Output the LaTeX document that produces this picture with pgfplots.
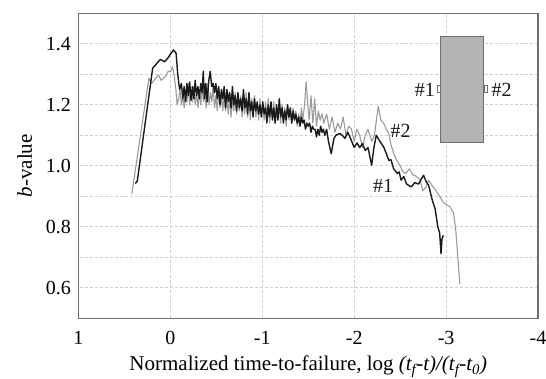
\documentclass[border=0pt]{standalone}
\usepackage{fontspec}
\setmainfont{Liberation Serif}
\usepackage{pgfplots}
\pgfplotsset{compat=1.18}
\definecolor{frame}{HTML}{6E6E6E}
\definecolor{gridc}{HTML}{CFCFCF}
\definecolor{ser1}{HTML}{1A1A1A}
\definecolor{ser2}{HTML}{9A9A9A}
\definecolor{boxfill}{HTML}{B4B4B4}
\begin{document}
\begin{tikzpicture}
\begin{axis}[
  name=ax,
  scale only axis,
  width=459.5pt, height=305pt,
  xmin=-4, xmax=1, ymin=0.5, ymax=1.5,
  x dir=reverse,
  xtick={-4,-3,-2,-1,0,1},
  ytick={0.6,0.8,1.0,1.2,1.4},
  minor ytick={0.7,0.9,1.1,1.3},
  yticklabel style={/pgf/number format/fixed,/pgf/number format/fixed zerofill,/pgf/number format/precision=1},
  /pgf/number format/assume math mode=true,
  ticklabel style={font=\fontsize{20}{23}\selectfont},
  major tick length=0pt, minor tick length=0pt,
  xmajorgrids, ymajorgrids, yminorgrids,
  major grid style={gridc, dash pattern=on 3pt off 2pt, line width=0.7pt},
  minor grid style={gridc, dash pattern=on 3pt off 2pt, line width=0.7pt},
  axis line style={frame, line width=1.3pt},
  xticklabel style={yshift=-9pt},
  yticklabel style={xshift=-4pt},
  xlabel={Normalized time-to-failure, log \textit{(t\textsubscript{f}-t)/(t\textsubscript{f}-t\textsubscript{0})}},
  ylabel={\textit{b}-value},
  label style={font=\fontsize{21}{24}\selectfont},
  xlabel style={yshift=-5pt},
  ylabel style={yshift=7pt},
  clip=false,
]
% inset schematic
\draw[frame, fill=boxfill, line width=1pt] (axis cs:-2.939,1.078) rectangle (axis cs:-3.412,1.423);
\draw[frame, fill=white, line width=0.7pt] (axis cs:-2.900,1.242) rectangle (axis cs:-2.939,1.265);
\draw[frame, fill=white, line width=0.7pt] (axis cs:-3.412,1.242) rectangle (axis cs:-3.451,1.265);
\node[font=\fontsize{20}{23}\selectfont, text=ser1] at (axis cs:-2.768,1.248) {\#1};
\node[font=\fontsize{20}{23}\selectfont, text=ser1] at (axis cs:-3.603,1.248) {\#2};
\node[font=\fontsize{20}{23}\selectfont, text=ser1] at (axis cs:-2.504,1.116) {\#2};
\node[font=\fontsize{20}{23}\selectfont, text=ser1] at (axis cs:-2.315,0.935) {\#1};
% series #2 (gray)
\addplot[ser2, line width=1.1pt, line join=round] coordinates {
(0.42,0.907) (0.234,1.287) (0.204,1.27) (0.165,1.285) (0.129,1.298) (0.10,1.28)
(0.075,1.287) (0.05,1.295) (0.026,1.309) (-0.005,1.31) (-0.023,1.325) (-0.043,1.293)
(-0.06,1.25) (-0.073,1.20) (-0.09,1.22) (-0.105,1.25) (-0.12,1.20) (-0.135,1.23)
(-0.15,1.19) (-0.165,1.25) (-0.18,1.21) (-0.195,1.27) (-0.21,1.20) (-0.225,1.25)
(-0.24,1.21) (-0.255,1.26) (-0.27,1.20) (-0.285,1.24) (-0.30,1.19) (-0.315,1.25)
(-0.33,1.20) (-0.345,1.26) (-0.36,1.21) (-0.375,1.24) (-0.39,1.19) (-0.405,1.27)
(-0.42,1.20) (-0.435,1.24) (-0.45,1.21) (-0.465,1.26) (-0.48,1.19) (-0.495,1.23)
(-0.51,1.18) (-0.525,1.25) (-0.54,1.19) (-0.555,1.23) (-0.57,1.18) (-0.585,1.24)
(-0.60,1.18) (-0.615,1.22) (-0.63,1.17) (-0.645,1.23) (-0.66,1.16) (-0.675,1.22)
(-0.69,1.18) (-0.705,1.24) (-0.72,1.17) (-0.735,1.22) (-0.75,1.18) (-0.765,1.23)
(-0.78,1.16) (-0.795,1.21) (-0.81,1.17) (-0.825,1.24) (-0.84,1.16) (-0.855,1.21)
(-0.87,1.15) (-0.885,1.22) (-0.90,1.17) (-0.915,1.23) (-0.93,1.16) (-0.945,1.20)
(-0.96,1.15) (-0.975,1.22) (-0.99,1.16) (-1.005,1.20) (-1.02,1.15) (-1.035,1.21)
(-1.05,1.16) (-1.065,1.22) (-1.08,1.14) (-1.095,1.20) (-1.11,1.16) (-1.125,1.21)
(-1.14,1.14) (-1.155,1.19) (-1.17,1.15) (-1.185,1.21) (-1.20,1.14) (-1.215,1.20)
(-1.23,1.15) (-1.245,1.19) (-1.26,1.13) (-1.275,1.20) (-1.29,1.15) (-1.305,1.18)
(-1.32,1.14) (-1.335,1.19) (-1.35,1.15) (-1.365,1.18) (-1.38,1.13) (-1.395,1.17)
(-1.41,1.14) (-1.425,1.19) (-1.44,1.15) (-1.46,1.20) (-1.477,1.276) (-1.495,1.20)
(-1.51,1.15) (-1.53,1.23) (-1.55,1.14) (-1.57,1.22) (-1.59,1.13) (-1.61,1.18)
(-1.63,1.15) (-1.65,1.17) (-1.67,1.14) (-1.70,1.17) (-1.73,1.12) (-1.76,1.16)
(-1.79,1.11) (-1.82,1.14) (-1.85,1.12) (-1.88,1.16) (-1.91,1.10) (-1.94,1.13)
(-1.97,1.12) (-2.0,1.08) (-2.03,1.12) (-2.06,1.10) (-2.09,1.06) (-2.12,1.10)
(-2.15,1.12) (-2.19,1.08) (-2.22,1.10) (-2.262,1.196) (-2.29,1.15) (-2.32,1.14)
(-2.35,1.12) (-2.376,1.106) (-2.40,1.07) (-2.43,1.04) (-2.46,1.02) (-2.50,1.00)
(-2.53,0.98) (-2.56,0.975) (-2.60,0.99) (-2.64,0.97) (-2.68,0.965) (-2.72,0.953)
(-2.745,0.918) (-2.78,0.93) (-2.81,0.953) (-2.86,0.93) (-2.91,0.91) (-2.97,0.88)
(-3.04,0.866) (-3.08,0.847) (-3.106,0.787) (-3.15,0.612)
};
% series #1 (black)
\addplot[ser1, line width=1.4pt, line join=round] coordinates {
(0.382,0.942) (0.36,0.95) (0.193,1.32) (0.15,1.335) (0.109,1.349) (0.064,1.341)
(0.03,1.352) (0.007,1.363) (-0.035,1.38) (-0.062,1.369) (-0.08,1.30) (-0.10,1.25)
(-0.12,1.27) (-0.135,1.22) (-0.15,1.26) (-0.165,1.21) (-0.18,1.27) (-0.195,1.23)
(-0.21,1.275) (-0.225,1.215) (-0.24,1.26) (-0.255,1.22) (-0.27,1.28) (-0.285,1.23)
(-0.30,1.26) (-0.315,1.22) (-0.33,1.27) (-0.345,1.24) (-0.358,1.31) (-0.37,1.22)
(-0.385,1.27) (-0.40,1.21) (-0.418,1.28) (-0.433,1.31) (-0.45,1.26) (-0.465,1.27)
(-0.48,1.24) (-0.495,1.27) (-0.51,1.22) (-0.525,1.26) (-0.54,1.20) (-0.555,1.25)
(-0.57,1.22) (-0.585,1.26) (-0.60,1.19) (-0.615,1.25) (-0.63,1.21) (-0.645,1.24)
(-0.66,1.19) (-0.675,1.26) (-0.69,1.20) (-0.705,1.23) (-0.72,1.18) (-0.735,1.24)
(-0.75,1.19) (-0.765,1.22) (-0.78,1.18) (-0.795,1.25) (-0.81,1.19) (-0.825,1.22)
(-0.84,1.17) (-0.855,1.24) (-0.87,1.18) (-0.885,1.21) (-0.90,1.16) (-0.915,1.22)
(-0.93,1.18) (-0.945,1.21) (-0.96,1.17) (-0.975,1.20) (-0.99,1.16) (-1.005,1.21)
(-1.02,1.17) (-1.035,1.19) (-1.05,1.14) (-1.065,1.20) (-1.08,1.16) (-1.095,1.21)
(-1.11,1.15) (-1.125,1.19) (-1.14,1.14) (-1.155,1.20) (-1.17,1.15) (-1.185,1.22)
(-1.20,1.16) (-1.215,1.19) (-1.23,1.14) (-1.245,1.18) (-1.26,1.15) (-1.275,1.20)
(-1.29,1.16) (-1.305,1.19) (-1.32,1.14) (-1.335,1.18) (-1.35,1.15) (-1.365,1.17)
(-1.38,1.14) (-1.395,1.16) (-1.41,1.13) (-1.425,1.16) (-1.44,1.14) (-1.455,1.15)
(-1.47,1.12) (-1.485,1.14) (-1.50,1.13) (-1.515,1.14) (-1.53,1.11) (-1.545,1.13)
(-1.56,1.12) (-1.575,1.12) (-1.59,1.095) (-1.605,1.12) (-1.62,1.10) (-1.635,1.13)
(-1.65,1.11) (-1.665,1.12) (-1.68,1.10) (-1.70,1.12) (-1.72,1.08) (-1.75,1.04)
(-1.78,1.09) (-1.80,1.10) (-1.845,1.106) (-1.87,1.10) (-1.90,1.09) (-1.93,1.11)
(-1.96,1.09) (-2.0,1.06) (-2.03,1.075) (-2.06,1.06) (-2.09,1.073) (-2.12,1.05)
(-2.15,1.06) (-2.19,1.002) (-2.215,1.06) (-2.24,1.10) (-2.28,1.08) (-2.32,1.062)
(-2.35,1.04) (-2.376,1.018) (-2.40,1.02) (-2.43,0.99) (-2.47,0.975) (-2.49,0.98)
(-2.51,0.953) (-2.54,0.965) (-2.57,0.94) (-2.62,0.931) (-2.66,0.945) (-2.70,0.94)
(-2.755,0.969) (-2.78,0.95) (-2.81,0.936) (-2.85,0.887) (-2.88,0.86) (-2.91,0.80)
(-2.93,0.78) (-2.945,0.712) (-2.955,0.76) (-2.97,0.772)
};
\end{axis}
\pgfresetboundingbox
\path[use as bounding box] ([shift={(-78.5pt,-59.7pt)}]ax.south west) rectangle ([shift={(8pt,13.3pt)}]ax.north east);
\end{tikzpicture}
\end{document}
